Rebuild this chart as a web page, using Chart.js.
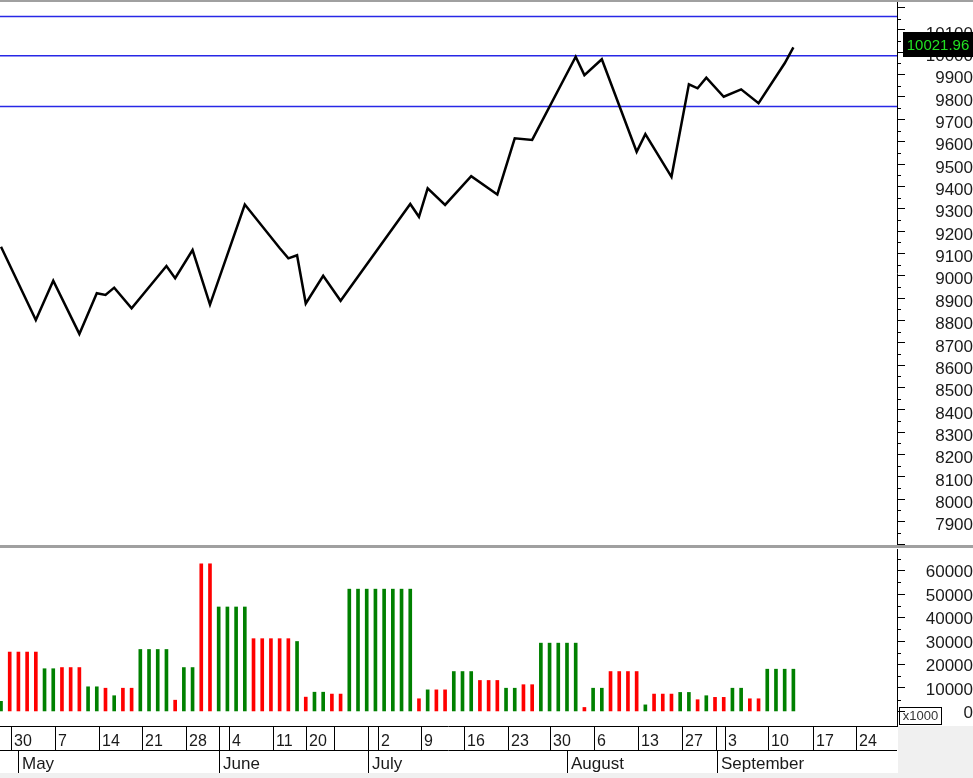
<!DOCTYPE html>
<html>
<head>
<meta charset="utf-8">
<title>Price and volume</title>
<script src="https://cdn.jsdelivr.net/npm/chart.js@4.4.1/dist/chart.umd.min.js"></script>
<style>
  html, body { margin: 0; padding: 0; background: #fff; }
  body { position: relative; width: 973px; height: 778px; overflow: hidden; }
  canvas { position: absolute; left: 0; display: block; }
  #price { top: 0; }
  #volume { top: 548px; }
  .rule { position: absolute; left: 0; width: 973px; background: #a0a0a0; z-index: 2; }
</style>
</head>
<body>
<canvas id="price" width="973" height="545"></canvas>
<canvas id="volume" width="973" height="230"></canvas>
<div class="rule" style="top:0;height:2px"></div>
<div class="rule" style="top:545px;height:3px"></div>
<script>
// Closing price, only at the days where the line turns (day index from the left)
const closeDay = [0, 4, 6, 9, 11, 12, 13, 15, 19, 20, 22, 24, 28, 32, 33, 34, 35, 37, 39, 47,
  48, 49, 51, 54, 57, 59, 61, 66, 67, 69, 73, 74, 77, 79, 80, 81, 83, 85, 87, 90, 91]
const closeValue = [9130, 8802, 8978, 8740, 8922, 8914, 8947, 8855, 9044, 8989, 9115, 8871, 9319, 9124, 9078, 9092, 8876, 9000, 8888, 9321,
  9264, 9391, 9317, 9446, 9364, 9615, 9608, 9980, 9898, 9969, 9555, 9634, 9443, 9857, 9839, 9886, 9801, 9834, 9772, 9951, 10021.96]

// Horizontal support / resistance levels
const levels = [10160, 9985, 9757]

// Daily volume (x1000) and whether the day closed up (1) or down (0)
const volume = [4300, 25300, 25300, 25300, 25300, 18200, 18200, 18700, 18700, 18700,
  10500, 10500, 9900, 6700, 9900, 9900, 26400, 26400, 26400, 26400,
  4800, 18700, 18700, 62900, 62900, 44500, 44500, 44500, 44500, 31000,
  31000, 31000, 31000, 31000, 29800, 6100, 8200, 8200, 7400, 7400,
  52100, 52100, 52100, 52100, 52100, 52100, 52100, 52100, 5400, 9200,
  9200, 9200, 17000, 17000, 17000, 13200, 13200, 13200, 9900, 9900,
  11400, 11400, 29100, 29100, 29100, 29100, 29100, 1700, 9900, 9900,
  17000, 17000, 17000, 17000, 2800, 7400, 7400, 7400, 8100, 8100,
  5000, 6700, 6000, 6000, 9900, 9900, 5400, 5400, 18000, 18000,
  18000, 18000]
const volumeUp = [1, 0, 0, 0, 0, 1, 1, 0, 0, 0,
  1, 1, 0, 1, 0, 0, 1, 1, 1, 1,
  0, 1, 1, 0, 0, 1, 1, 1, 1, 0,
  0, 0, 0, 0, 1, 0, 1, 1, 0, 0,
  1, 1, 1, 1, 1, 1, 1, 1, 0, 1,
  0, 0, 1, 1, 1, 0, 0, 0, 1, 1,
  0, 0, 1, 1, 1, 1, 1, 0, 1, 1,
  0, 0, 0, 0, 1, 0, 0, 0, 1, 1,
  0, 1, 0, 0, 1, 1, 0, 0, 1, 1,
  1, 1]

// Date axis: week separators (in day index units) with their labels, then months
const dayTickAt = [1.2, 6.2, 11.2, 16.2, 21.2, 25.0, 26.15, 31.2, 35.0, 38.25, 42.2, 43.3,
  48.2, 53.2, 58.2, 63.1, 68.1, 73.2, 78.2, 82.1, 83.2, 88.1, 93.2, 98.2]
const dayTickLabel = ['30', '7', '14', '21', '28', '', '4', '11', '20', '', '', '2',
  '9', '16', '23', '30', '6', '13', '27', '', '3', '10', '17', '24']
const monthAt = [2.0, 25.0, 42.2, 65.05, 82.2]
const monthLabel = ['May', 'June', 'July', 'August', 'September']

const X_MIN = -0.115
const X_MAX = 102.9
const FONT = 'Liberation Sans'

Chart.defaults.font.family = FONT
Chart.defaults.color = '#1a1a1a'

// Function to draw the short half-step ticks on the right axis
const minorTicks = {
  id: 'minorTicks',
  afterDraw(chart, args, opts) {
    const scale = chart.scales.y
    const ctx = chart.ctx
    ctx.save()
    ctx.strokeStyle = '#000'
    ctx.lineWidth = 1
    ctx.beginPath()
    for (const t of scale.ticks) {
      if (t.value % opts.major === 0 || t.value < 0) continue
      const y = Math.round(scale.getPixelForValue(t.value)) + 0.5
      ctx.moveTo(scale.left, y)
      ctx.lineTo(scale.left + 4, y)
    }
    ctx.stroke()
    ctx.restore()
  }
}

// Function to put the last close in a black tag on the axis
const lastTag = {
  id: 'lastTag',
  afterDraw(chart) {
    const { ctx, scales: { y } } = chart
    const last = closeValue[closeValue.length - 1]
    const cy = y.getPixelForValue(last) - 3
    const left = y.left + 6
    ctx.save()
    ctx.fillStyle = '#000'
    ctx.fillRect(left, Math.round(cy - 12.5), chart.width - left, 25)
    ctx.fillStyle = '#22e022'
    ctx.font = `15px "${FONT}"`
    ctx.textAlign = 'center'
    ctx.textBaseline = 'middle'
    ctx.fillText(last.toFixed(2), (left + chart.width) / 2, cy + 1)
    ctx.restore()
  }
}

// Function to draw the two-row date axis and the x1000 box under the volume panel
const dateAxis = {
  id: 'dateAxis',
  afterDraw(chart) {
    const { ctx, chartArea, scales: { x, y } } = chart
    const top = chartArea.bottom
    const mid = top + 24
    const bottom = mid + 23
    ctx.save()
    ctx.fillStyle = '#f0f0f0'
    ctx.fillRect(chartArea.right + 1, top, chart.width - chartArea.right, chart.height - top)
    ctx.fillRect(0, bottom, chart.width, chart.height - bottom)

    ctx.strokeStyle = '#000'
    ctx.lineWidth = 1
    ctx.beginPath()
    ctx.moveTo(0, top + 0.5)
    ctx.lineTo(chartArea.right, top + 0.5)
    ctx.moveTo(0, mid + 0.5)
    ctx.lineTo(chartArea.right, mid + 0.5)
    dayTickAt.forEach(d => {
      const px = Math.round(x.getPixelForValue(d)) + 0.5
      ctx.moveTo(px, top)
      ctx.lineTo(px, mid)
    })
    monthAt.forEach(d => {
      const px = Math.round(x.getPixelForValue(d)) + 0.5
      ctx.moveTo(px, mid)
      ctx.lineTo(px, bottom)
    })
    ctx.stroke()

    ctx.fillStyle = '#1a1a1a'
    ctx.textAlign = 'left'
    ctx.textBaseline = 'alphabetic'
    ctx.font = `16px "${FONT}"`
    dayTickAt.forEach((d, i) => {
      ctx.fillText(dayTickLabel[i], Math.round(x.getPixelForValue(d)) + 3, top + 20)
    })
    ctx.font = `17px "${FONT}"`
    monthAt.forEach((d, i) => {
      ctx.fillText(monthLabel[i], Math.round(x.getPixelForValue(d)) + 4, mid + 18.5)
    })

    // unit box next to the zero label
    const zy = y.getPixelForValue(0)
    ctx.strokeRect(y.left + 2.5, Math.round(zy) - 3.5, 42, 17)
    ctx.font = `13px "${FONT}"`
    ctx.fillStyle = '#333'
    ctx.textAlign = 'center'
    ctx.textBaseline = 'middle'
    ctx.fillText('x1000', y.left + 23.5, Math.round(zy) + 5.5)
    ctx.restore()
  }
}

// Function to build the shared right-hand value axis
const valueAxis = (min, max, step, major, lo, hi, offset) => ({
  position: 'right',
  min: min,
  max: max,
  // ticks on every step multiple inside the range
  afterBuildTicks: scale => {
    const ticks = []
    for (let v = Math.ceil(min / step) * step; v <= max; v += step) ticks.push({ value: v })
    scale.ticks = ticks
  },
  afterFit: scale => {
    scale.width = 76
    scale.paddingTop = 0
    scale.paddingBottom = 0
  },
  border: { display: true, color: '#000', width: 1 },
  grid: {
    drawOnChartArea: false,
    drawTicks: true,
    tickLength: 8,
    tickColor: c => (c.tick && c.tick.value % major === 0) ? '#000' : 'rgba(0,0,0,0)'
  },
  ticks: {
    stepSize: step,
    autoSkip: false,
    includeBounds: false,
    crossAlign: 'far',
    padding: 13,
    labelOffset: offset,
    font: { family: FONT, size: 17 },
    callback: v => (v % major === 0 && v >= lo && v <= hi) ? String(v) : ''
  }
})

const baseOptions = {
  responsive: false,
  animation: false,
  devicePixelRatio: 1,
  plugins: { legend: { display: false }, tooltip: { enabled: false } }
}

// Price panel
new Chart(document.getElementById('price'), {
  type: 'line',
  data: {
    datasets: [
      {
        data: closeDay.map((d, i) => ({ x: d, y: closeValue[i] })),
        borderColor: '#000',
        borderWidth: 2.5,
        pointRadius: 0,
        tension: 0
      },
      ...levels.map(v => ({
        data: [{ x: X_MIN, y: v }, { x: X_MAX, y: v }],
        borderColor: '#2828e6',
        borderWidth: 1.5,
        pointRadius: 0
      }))
    ]
  },
  options: {
    ...baseOptions,
    layout: { padding: { top: 2, bottom: 1, left: 0, right: 0 } },
    plugins: { ...baseOptions.plugins, minorTicks: { major: 100 } },
    scales: {
      x: { type: 'linear', min: X_MIN, max: X_MAX, display: false },
      y: valueAxis(7800, 10225, 50, 100, 7900, 10100, 4)
    }
  },
  plugins: [minorTicks, lastTag]
})

// Volume panel
new Chart(document.getElementById('volume'), {
  type: 'bar',
  data: {
    datasets: [{
      data: volume.map((v, i) => ({ x: i, y: v })),
      backgroundColor: volumeUp.map(u => u ? '#008000' : '#ff0000'),
      barThickness: 3
    }]
  },
  options: {
    ...baseOptions,
    layout: { padding: { top: 1, bottom: 52, left: 0, right: 0 } },
    plugins: { ...baseOptions.plugins, minorTicks: { major: 10000 } },
    scales: {
      x: { type: 'linear', min: X_MIN, max: X_MAX, offset: false, display: false },
      y: valueAxis(-6200, 69200, 5000, 10000, 0, 60000, 2)
    }
  },
  plugins: [minorTicks, dateAxis]
})
</script>
</body>
</html>
